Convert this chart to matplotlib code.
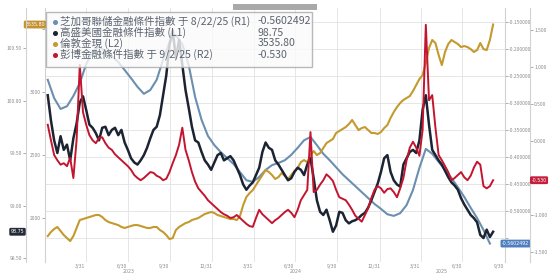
import numpy as np
import pandas as pd
import matplotlib
matplotlib.use("Agg")
from matplotlib import pyplot as plt
from matplotlib.patches import Rectangle
import matplotlib.transforms as mtransforms

plt.rcParams["font.family"] = ["Noto Sans CJK TC", "DejaVu Sans"]

# weekly observations (Fridays)
dates = pd.date_range("2023-01-06", "2025-09-05", freq="7D")
nfci_dates = dates[::2]

# Goldman Sachs US FCI (L1)
gs_fci = [
    100.05, 99.81, 99.62, 99.50, 99.66, 99.53, 99.58, 99.43, 99.64, 99.78,
    99.98, 100.04, 99.91, 99.77, 99.74, 99.69, 99.62, 99.74, 99.75, 99.67,
    99.72, 99.74, 99.67, 99.72, 99.60, 99.53, 99.45, 99.41, 99.39, 99.43,
    99.48, 99.55, 99.64, 99.72, 99.75, 99.86, 100.05, 100.24, 100.53, 100.67,
    100.40, 100.58, 100.34, 100.10, 99.93, 99.75, 99.62, 99.60, 99.51, 99.43,
    99.39, 99.34, 99.41, 99.48, 99.50, 99.43, 99.45, 99.47, 99.43, 99.36,
    99.29, 99.20, 99.15, 99.19, 99.22, 99.29, 99.36, 99.51, 99.60, 99.55,
    99.53, 99.43, 99.39, 99.34, 99.29, 99.24, 99.26, 99.32, 99.36, 99.34,
    99.29, 99.39, 99.45, 99.26, 99.05, 98.94, 98.91, 98.96, 98.86, 98.75,
    98.81, 98.94, 98.93, 98.86, 98.83, 98.85, 98.86, 98.88, 98.91, 98.93,
    98.98, 99.05, 99.13, 99.21, 99.32, 99.45, 99.48, 99.32, 99.24, 99.20,
    99.18, 99.39, 99.45, 99.51, 99.53, 99.50, 99.62, 99.91, 100.05, 99.77,
    99.53, 99.48, 99.43, 99.39, 99.33, 99.27, 99.22, 99.19, 99.15, 99.07,
    99.01, 98.96, 98.91, 98.88, 98.84, 98.72, 98.69, 98.77, 98.70, 98.75,
]

# London spot gold (L2)
gold = [
    1857, 1889, 1913, 1929, 1897, 1865, 1841, 1817, 1857, 1921,
    1984, 1992, 2000, 2008, 2016, 2024, 2024, 2008, 1984, 1968,
    1960, 1952, 1944, 1929, 1921, 1929, 1937, 1944, 1944, 1937,
    1929, 1921, 1921, 1929, 1929, 1905, 1889, 1865, 1833, 1841,
    1905, 1929, 1944, 1960, 1968, 1984, 1992, 2000, 2016, 2032,
    2040, 2048, 2040, 2024, 2016, 2008, 2000, 1992, 1992, 1984,
    2016, 2103, 2167, 2198, 2222, 2262, 2302, 2341, 2381, 2365,
    2341, 2310, 2325, 2357, 2333, 2310, 2341, 2373, 2397, 2444,
    2460, 2444, 2500, 2532, 2500, 2516, 2556, 2595, 2611, 2627,
    2675, 2691, 2706, 2722, 2746, 2778, 2738, 2698, 2714, 2722,
    2698, 2675, 2675, 2667, 2683, 2714, 2738, 2794, 2841, 2881,
    2913, 2937, 2952, 2968, 3008, 3056, 3103, 3135, 3230, 3349,
    3413, 3389, 3294, 3214, 3318, 3381, 3413, 3397, 3381, 3357,
    3365, 3357, 3341, 3318, 3333, 3389, 3341, 3333, 3413, 3535.80,
]

# Bloomberg FCI (R2)
bbg_fci = [
    0.22, 0.01, -0.19, -0.26, -0.32, -0.30, -0.34, -0.23, -0.50, 0.01,
    1.03, 0.39, 0.22, 0.08, 0.01, -0.03, 0.04, 0.05, -0.03, -0.09,
    -0.12, -0.18, -0.22, -0.26, -0.30, -0.34, -0.39, -0.46, -0.50, -0.53,
    -0.50, -0.46, -0.42, -0.43, -0.47, -0.49, -0.53, -0.51, -0.42, -0.30,
    -0.19, -0.05, 0.18, -0.12, -0.26, -0.42, -0.55, -0.64, -0.69, -0.74,
    -0.80, -0.84, -0.88, -0.92, -0.96, -0.99, -1.01, -1.04, -1.03, -1.00,
    -1.04, -1.08, -1.12, -1.15, -1.16, -1.04, -0.93, -0.99, -1.03, -1.07,
    -1.11, -1.07, -1.04, -1.00, -0.96, -0.93, -0.97, -1.03, -0.93, -0.80,
    -0.73, -0.66, 0.12, -0.69, -0.66, -0.59, -0.53, -0.45, -0.49, -0.54,
    -0.66, -0.76, -0.78, -0.80, -0.86, -0.93, -1.01, -1.05, -1.09, -1.00,
    -0.91, -0.77, -0.66, -0.61, -0.64, -0.70, -0.65, -0.64, -0.69, -0.76,
    -0.64, -0.50, -0.26, -0.09, -0.01, -0.09, -0.20, 0.15, 1.57, 0.55,
    0.62, 0.18, -0.19, -0.26, -0.34, -0.42, -0.53, -0.50, -0.46, -0.42,
    -0.49, -0.53, -0.47, -0.36, -0.28, -0.32, -0.61, -0.64, -0.61, -0.53,
]

# Chicago Fed NFCI (R1), every other week
nfci = [
    -0.257, -0.291, -0.311, -0.306, -0.287, -0.263, -0.228, -0.204, -0.196, -0.204,
    -0.213, -0.224, -0.239, -0.254, -0.270, -0.283, -0.276, -0.257, -0.220, -0.187,
    -0.174, -0.191, -0.230, -0.289, -0.331, -0.361, -0.378, -0.391, -0.402, -0.413,
    -0.428, -0.443, -0.446, -0.437, -0.424, -0.415, -0.411, -0.406, -0.396, -0.383,
    -0.369, -0.363, -0.378, -0.394, -0.406, -0.419, -0.432, -0.443, -0.454, -0.465,
    -0.476, -0.487, -0.496, -0.506, -0.509, -0.504, -0.489, -0.461, -0.420, -0.385,
    -0.394, -0.409, -0.424, -0.439, -0.456, -0.474, -0.494, -0.513, -0.535, -0.5602492,
]

legend_labels = [
    "芝加哥聯儲金融條件指數 于 8/22/25 (R1)",
    "高盛美國金融條件指數 (L1)",
    "倫敦金現 (L2)",
    "彭博金融條件指數 于 9/2/25 (R2)",
]
legend_values = ["-0.5602492", "98.75", "3535.80", "-0.530"]

tick_dates = pd.to_datetime([
    "2023-03-31", "2023-06-30", "2023-09-30", "2023-12-31",
    "2024-03-31", "2024-06-30", "2024-09-30", "2024-12-31",
    "2025-03-31", "2025-06-30", "2025-09-30",
])
tick_labels = ["3/31", "6/30", "9/30", "12/31"] * 2 + ["3/31", "6/30", "9/30"]

c_nfci = "#6b8fb0"
c_gs = "#1c2433"
c_gold = "#c49a2e"
c_bbg = "#c3152f"
tick_col = "#8c8c8c"
spine_col = "#d2d2d2"

W, H = 549, 276
fig = plt.figure(figsize=(W / 100, H / 100), dpi=100)
ax = fig.add_axes([45 / W, 14 / H, 460 / W, 254 / H])

ax_l2 = ax.twinx()
ax_l1 = ax.twinx()
ax_r2 = ax.twinx()
ax.yaxis.tick_right()
ax.yaxis.set_label_position("right")
for a in (ax_l2, ax_l1):
    a.yaxis.set_ticks_position("left")
ax_r2.yaxis.set_ticks_position("right")

for a in (ax, ax_l2, ax_l1, ax_r2):
    for s in a.spines.values():
        s.set_visible(False)
ax.spines["right"].set_visible(True)
ax_l2.spines["left"].set_visible(True)
ax_l1.spines["left"].set_visible(True)
ax_l1.spines["left"].set_position(("outward", 13.7))
ax_r2.spines["right"].set_visible(True)
ax_r2.spines["right"].set_position(("outward", 18))
for a, side in ((ax, "right"), (ax_l2, "left"), (ax_l1, "left"), (ax_r2, "right")):
    a.spines[side].set_color(spine_col)
    a.spines[side].set_linewidth(0.8)
    a.tick_params(axis="y", labelsize=3.6, colors=tick_col, length=2, width=0.5, pad=1)

ax.plot(nfci_dates, nfci, color=c_nfci, lw=1.5, zorder=3)
ax_l2.plot(dates, gold, color=c_gold, lw=1.5)
ax_l1.plot(dates, gs_fci, color=c_gs, lw=1.8)
ax_r2.plot(dates, bbg_fci, color=c_bbg, lw=1.4)

ax.set_xlim(pd.Timestamp("2022-12-31"), pd.Timestamp("2025-10-01"))
ax.set_ylim(-0.5944, -0.1241)
ax_l1.set_ylim(98.462, 100.881)
ax_l2.set_ylim(1651, 3667)
ax_r2.set_ylim(-1.635, 1.797)

# labels hidden behind the last-value tags are left blank
r1_ticks = np.arange(-0.55, -0.149, 0.05)
ax.set_yticks(r1_ticks)
ax.set_yticklabels(["" if abs(v + 0.55) < 1e-6 else f"{v:.6f}" for v in r1_ticks])
ax_l1.set_yticks(np.arange(98.5, 100.51, 0.5))
ax_l1.set_yticklabels([f"{v:.2f}" for v in np.arange(98.5, 100.51, 0.5)])
ax_l2.set_yticks([2000, 2500, 3000, 3500])
ax_l2.set_yticklabels(["2000", "2500", "3000", ""])
r2_ticks = np.arange(-1.5, 1.51, 0.5)
ax_r2.set_yticks(r2_ticks)
ax_r2.set_yticklabels(["" if abs(v + 0.5) < 1e-6 else f"{v:.3f}" for v in r2_ticks])

ax.set_xticks(tick_dates)
ax.set_xticklabels(tick_labels)
ax.tick_params(axis="x", labelsize=3.6, colors=tick_col, length=0, pad=1.5)
shift = mtransforms.ScaledTranslation(-6 / 100, 0, fig.dpi_scale_trans)
for lab in ax.get_xticklabels():
    lab.set_transform(lab.get_transform() + shift)
ax.grid(True, color="#e2e2e2", lw=0.6)
ax.set_axisbelow(True)

year_tr = mtransforms.blended_transform_factory(ax.transData, ax.transAxes)
for yr, d in (("2023", "2023-07-02"), ("2024", "2024-07-01"), ("2025", "2025-05-15")):
    ax.text(pd.Timestamp(d), -0.027, yr, transform=year_tr, fontsize=3.4,
            color=tick_col, ha="center", va="top", family="DejaVu Sans")

# last-value tags on the axes
def tag(a, x, y, txt, dx, fc):
    a.annotate(txt, xy=(x, y), xycoords=("axes fraction", "data"),
               xytext=(dx, 0), textcoords="offset points", ha="center", va="center",
               fontsize=3.4, color="white", family="DejaVu Sans", annotation_clip=False,
               bbox=dict(boxstyle="round,pad=0.3", fc=fc, ec="none"), zorder=10)

tag(ax_l2, 0, gold[-1], "3535.80", -7.2, "#c49232")
tag(ax_l1, 0, gs_fci[-1], "98.75", -19.8, "#262b3a")
tag(ax_r2, 1, bbg_fci[-1], "-0.530", 24.5, "#c41e3a")
tag(ax, 1, nfci[-1], "-0.5602492", 7.6, "#4f7fbf")

# legend box
def fx(x):
    return x / W

def fy(y):
    return 1 - y / H

fig.patches.append(Rectangle((fx(46), fy(67)), (312 - 46) / W, (67 - 12) / H,
                             transform=fig.transFigure, fc="#fbfbfb", alpha=0.8,
                             ec="#a8a8a8", lw=1.0, zorder=20))
fig.patches.append(Rectangle((fx(233), fy(10)), (317 - 233) / W, 6 / H,
                             transform=fig.transFigure, fc="#a9a9a9", ec="none", zorder=20))
row_y = [21.5, 32.5, 43.5, 54.5]
for yy, col, lab, val in zip(row_y, [c_nfci, c_gs, c_gold, c_bbg], legend_labels, legend_values):
    fig.lines.append(plt.Line2D([fx(55)], [fy(yy)], marker="o", ms=2.6, color=col,
                                transform=fig.transFigure, zorder=21))
    fig.text(fx(60), fy(yy), lab, fontsize=7.6, color="#5c6470", va="center", ha="left", zorder=21)
    fig.text(fx(258), fy(yy), val, fontsize=7.6, color="#5c6470", va="center", ha="left", zorder=21)

fig.savefig("out.png", dpi=100, facecolor="white")
